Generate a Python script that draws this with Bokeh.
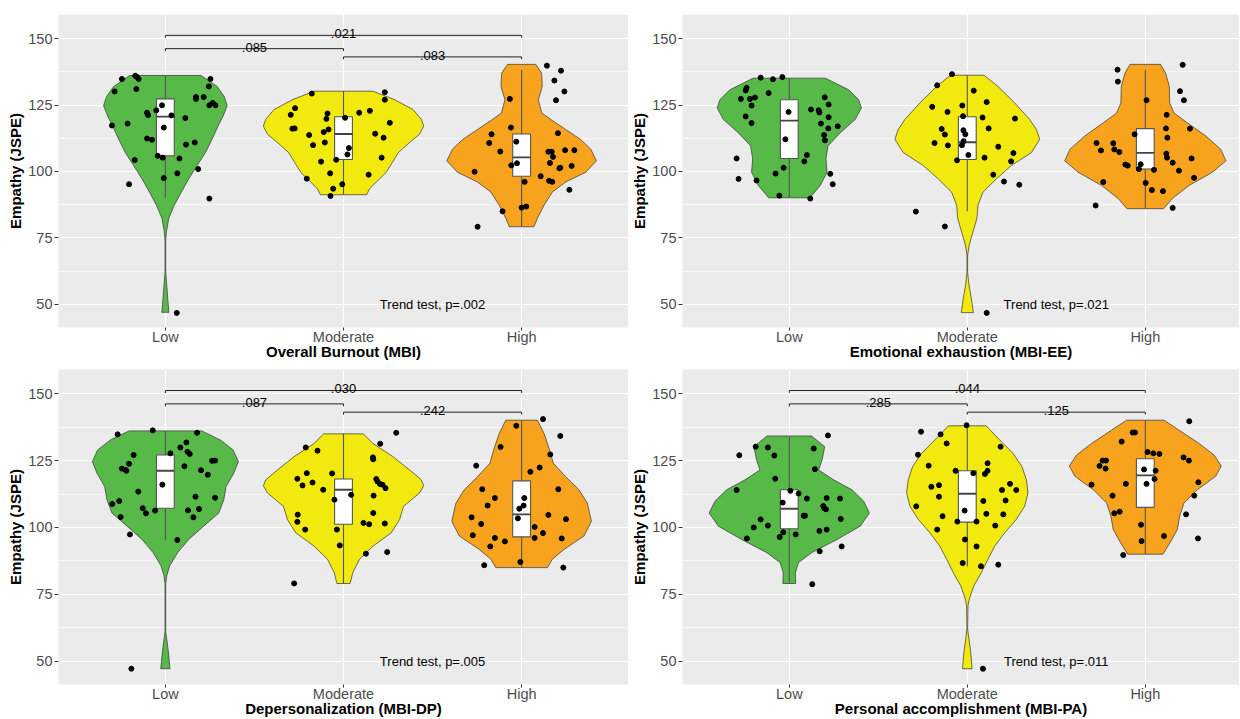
from bokeh.plotting import figure
from bokeh.layouts import gridplot
from bokeh.models import FixedTicker, Range1d
from bokeh.embed import file_html
from bokeh.resources import INLINE
from bokeh.core.properties import value

FONT = "Liberation Sans"

CATEGORIES = ["Low", "Moderate", "High"]
X_TITLES = ["Overall Burnout (MBI)", "Emotional exhaustion (MBI-EE)",
            "Depersonalization (MBI-DP)", "Personal accomplishment (MBI-PA)"]
Y_TITLE = "Empathy (JSPE)"
TREND_LABELS = ["Trend test, p=.002", "Trend test, p=.021",
                "Trend test, p=.005", "Trend test, p=.011"]
# bracket labels: Low-Moderate, Moderate-High, Low-High
P1_BRACKETS = [".085", ".083", ".021"]
P3_BRACKETS = [".087", ".242", ".030"]
P4_BRACKETS = [".285", ".125", ".044"]
Y_TICKS = [50, 75, 100, 125, 150]

COLORS = ["#57B947", "#F2E90F", "#F7A31D"]

# ---------- Panel 1: Overall Burnout ----------
P1_LOW_Y = [134.8,136.0,135.5,134.8,130.1,131.0,134.8,132.0,128.0,127.3,128.0,124.9,125.8,124.9,123.0,124.9,122.1,121.2,121.1,120.1,117.3,118.0,116.5,112.4,111.9,110.1,110.9,105.9,105.2,104.9,104.3,100.9,99.3,97.5,95.2,89.8,46.8]
P1_LOW_DX = [-0.244,-0.169,-0.159,-0.150,-0.285,-0.163,0.253,0.244,0.172,0.172,0.215,0.247,0.266,0.281,-0.051,-0.019,-0.103,-0.097,0.034,0.112,-0.300,-0.212,-0.009,-0.103,-0.075,0.116,0.165,-0.043,-0.015,0.079,-0.172,0.184,0.067,-0.009,-0.204,0.247,0.064]
P1_LOW_VY = [136.1,132.0,128.2,124.8,120.8,117.1,112.1,107.1,102.2,97.2,92.3,87.3,82.3,77.3,74.0,62.0,57.5,52.5,47.0]
P1_LOW_VW = [0.200,0.290,0.330,0.347,0.324,0.296,0.262,0.225,0.178,0.131,0.090,0.050,0.019,0.006,0.002,0.002,0.0075,0.013,0.020]
P1_LOW_BOX = [90.1, 105.9, 120.6, 127.3, 136.1]

P1_MOD_Y = [129.3,129.8,127.0,123.8,121.3,121.8,119.8,122.1,122.8,118.3,116.1,116.2,115.8,114.8,113.7,114.2,112.7,109.9,110.9,120.2,108.8,106.4,104.4,103.7,105.2,99.3,98.8,97.3,95.2,93.5,90.8]
P1_MOD_DX = [-0.178,0.232,0.232,-0.272,-0.296,-0.090,-0.096,0.088,0.148,0.260,-0.287,-0.274,-0.084,-0.111,-0.193,0.178,0.225,-0.171,-0.105,0.009,0.030,0.022,-0.041,-0.126,0.214,-0.075,0.141,-0.206,-0.007,-0.058,-0.073]
P1_MOD_VY = [130.2,127.0,123.3,119.6,117.1,114.0,110.9,107.1,103.4,99.7,96.0,93.5,91.25]
P1_MOD_VW = [0.165,0.287,0.390,0.437,0.450,0.427,0.371,0.308,0.274,0.240,0.184,0.146,0.130]
P1_MOD_BOX = [91.25, 104.5, 114.1, 120.6, 130.2]

P1_HIGH_Y = [139.8,137.9,134.2,130.1,126.8,127.3,116.5,114.0,110.7,114.4,111.2,107.5,107.4,107.4,108.0,108.0,105.5,103.2,102.3,103.1,99.9,101.4,101.2,102.1,98.2,96.1,96.5,96.1,93.1,85.0,86.4,86.8,79.2]
P1_HIGH_DX = [0.142,0.221,0.184,0.240,0.193,-0.066,-0.060,-0.169,-0.182,0.204,-0.030,-0.120,0.150,0.169,0.244,0.296,0.176,0.159,-0.058,-0.026,-0.264,0.217,0.212,0.281,0.107,0.017,0.154,0.172,0.268,-0.107,0.000,0.026,-0.247]
P1_HIGH_VY = [140.3,137.0,132.0,127.0,122.0,119.6,115.8,112.1,108.4,104.0,99.7,96.0,92.2,87.3,82.3,79.2]
P1_HIGH_VW = [0.079,0.112,0.116,0.094,0.113,0.163,0.247,0.330,0.388,0.420,0.360,0.247,0.172,0.126,0.088,0.069]
P1_HIGH_BOX = [79.2, 98.2, 105.3, 114.1, 138.2]

# ---------- Panel 2: Emotional exhaustion ----------
P2_LOW_Y = [135.3,134.7,135.5,131.5,130.5,129.5,127.3,127.3,127.8,124.8,120.7,118.2,122.4,112.1,127.9,125.2,123.3,123.0,122.2,120.4,118.0,117.0,116.2,113.7,111.7,104.9,106.2,103.8,101.4,99.2,96.6,97.2,99.1,95.2,90.9,89.8]
P2_LOW_DX = [-0.161,-0.092,-0.039,-0.240,-0.245,-0.116,-0.272,-0.221,-0.193,-0.212,-0.245,-0.212,-0.004,-0.022,0.199,0.221,0.122,0.165,0.169,0.221,0.178,0.272,0.219,0.195,0.200,-0.296,0.099,0.084,-0.032,-0.077,-0.184,-0.285,0.230,0.244,-0.056,0.118]
P2_LOW_VY = [135.1,130.7,127.0,123.9,119.6,114.6,109.6,104.7,99.7,94.7,90.1]
P2_LOW_VW = [0.203,0.334,0.390,0.405,0.371,0.287,0.217,0.206,0.212,0.174,0.116]
P2_LOW_BOX = [90.1, 104.9, 119.1, 127.0, 135.1]

P2_MOD_Y = [136.6,132.4,130.4,126.1,124.3,122.4,124.8,120.8,120.3,119.9,116.0,113.9,115.5,114.0,116.2,110.7,109.8,111.4,109.9,106.2,109.3,106.9,103.8,104.2,105.2,98.8,96.2,95.0,84.9,79.3,46.8]
P2_MOD_DX = [-0.086,-0.169,0.036,0.109,-0.197,-0.111,-0.028,-0.024,0.086,0.268,-0.144,-0.126,-0.022,-0.011,0.120,-0.184,-0.109,-0.021,-0.030,0.006,0.174,0.259,0.246,-0.058,0.097,0.146,0.206,0.292,-0.289,-0.126,0.109]
P2_MOD_VY = [136.2,132.0,125.8,119.6,115.8,112.1,107.1,102.2,97.2,92.2,87.3,82.3,77.3,72.4,68.6,62.0,57.5,52.5,46.9]
P2_MOD_VW = [0.094,0.172,0.266,0.350,0.388,0.407,0.360,0.247,0.163,0.088,0.060,0.054,0.032,0.011,0.002,0.002,0.009,0.022,0.034]
P2_MOD_BOX = [85.0, 104.5, 111.0, 120.6, 136.2]

P2_HIGH_Y = [138.3,140.1,133.8,130.2,126.8,126.8,121.3,116.2,116.1,114.0,112.7,110.7,110.6,107.9,108.3,107.3,106.7,105.2,104.9,103.3,102.6,102.2,102.7,100.9,100.6,100.3,97.6,96.0,95.7,93.0,92.6,87.2,86.3]
P2_HIGH_DX = [-0.156,0.210,-0.154,0.195,0.007,0.217,0.120,0.116,0.251,-0.060,0.124,-0.274,-0.180,-0.249,-0.174,-0.146,0.118,0.122,0.260,0.154,-0.112,-0.099,-0.026,-0.036,0.049,0.189,0.274,-0.236,0.002,0.037,0.099,-0.279,0.154]
P2_HIGH_VY = [140.3,137.0,132.0,125.8,122.0,118.3,113.4,108.4,104.0,99.7,94.7,89.8,86.0]
P2_HIGH_VW = [0.086,0.114,0.135,0.137,0.161,0.236,0.339,0.423,0.453,0.377,0.245,0.152,0.103]
P2_HIGH_BOX = [86.0, 100.9, 107.0, 116.1, 138.2]

# ---------- Panel 3: Depersonalization ----------
P3_LOW_Y = [134.8,136.3,135.4,127.1,123.8,122.0,121.2,121.5,116.0,127.7,129.9,131.8,128.3,127.5,122.9,121.4,119.7,124.9,125.0,113.4,108.8,109.9,107.2,105.3,106.3,103.9,97.4,111.5,111.1,106.4,106.9,103.8,95.3,47.2]
P3_LOW_DX = [-0.268,-0.071,0.178,-0.178,-0.204,-0.244,-0.219,-0.223,-0.017,0.028,0.084,0.118,0.124,0.137,0.107,0.200,0.238,0.262,0.279,-0.152,-0.298,-0.259,-0.127,-0.109,-0.058,-0.251,-0.199,0.169,0.279,0.127,0.189,0.157,0.067,-0.191]
P3_LOW_VY = [136.1,132.7,129.0,124.6,120.3,115.3,110.4,105.4,100.5,95.5,90.6,85.6,81.9,79.0,61.0,58.4,53.4,47.2]
P3_LOW_VW = [0.204,0.309,0.380,0.410,0.384,0.341,0.328,0.300,0.215,0.131,0.069,0.024,0.0075,0.002,0.002,0.0075,0.017,0.026]
P3_LOW_BOX = [95.3, 107.2, 121.2, 127.1, 136.1]

P3_MOD_Y = [129.9,128.7,135.4,131.3,126.2,125.5,118.2,115.7,120.3,116.8,114.1,120.2,110.4,112.2,118.1,117.2,116.2,116.0,114.7,111.9,104.8,102.1,99.2,99.2,93.3,101.7,101.2,105.4,101.5,90.2,90.8,79.1]
P3_MOD_DX = [-0.212,-0.146,0.296,0.206,0.165,0.167,-0.259,-0.230,-0.206,-0.174,-0.114,-0.064,-0.051,0.043,0.184,0.191,0.206,0.219,0.236,0.169,-0.257,-0.259,-0.215,-0.037,-0.021,0.112,0.144,0.167,0.232,0.126,0.245,-0.277]
P3_MOD_VY = [135.0,131.4,126.5,121.5,117.8,115.6,112.9,107.9,103.0,98.0,93.0,88.1,83.1,79.05]
P3_MOD_VW = [0.112,0.165,0.277,0.371,0.437,0.450,0.427,0.337,0.315,0.268,0.165,0.090,0.052,0.037]
P3_MOD_BOX = [79.05, 101.2, 114.1, 118.1, 135.0]

P3_HIGH_Y = [138.0,140.5,134.2,130.1,127.3,123.1,120.8,122.4,114.3,111.0,108.2,114.3,111.0,108.2,107.0,103.4,103.8,101.3,104.7,103.1,97.1,96.1,92.9,94.8,100.2,97.9,96.1,95.9,87.1,85.9,85.0]
P3_HIGH_DX = [-0.030,0.120,0.217,-0.118,0.161,-0.255,0.049,0.101,-0.221,-0.150,-0.191,0.206,0.015,0.011,-0.013,-0.021,-0.281,-0.227,0.150,0.249,-0.274,-0.150,-0.176,-0.094,0.073,0.120,0.073,0.225,-0.007,-0.210,0.234]
P3_HIGH_VY = [140.1,135.1,129.0,124.0,119.0,114.1,109.1,102.3,96.8,91.8,88.1,85.0]
P3_HIGH_VW = [0.089,0.126,0.157,0.178,0.247,0.322,0.369,0.392,0.350,0.238,0.172,0.145]
P3_HIGH_BOX = [85.0, 96.5, 104.9, 117.4, 140.1]

# ---------- Panel 4: Personal accomplishment ----------
P4_LOW_Y = [130.2,129.9,126.9,127.0,129.5,134.4,121.8,118.2,114.0,113.7,112.7,109.3,110.8,111.0,110.8,108.0,107.2,106.8,104.4,104.4,103.0,100.7,100.0,103.2,95.9,98.2,96.4,97.4,98.7,99.2,91.1,92.9,78.8]
P4_LOW_DX = [-0.189,-0.120,-0.084,-0.281,0.137,0.217,0.144,-0.079,-0.296,0.006,0.052,-0.037,0.099,0.210,0.285,0.191,0.197,0.206,0.081,0.088,-0.161,-0.120,-0.200,0.289,-0.238,-0.034,-0.054,0.036,0.169,0.210,0.171,0.294,0.129]
P4_LOW_VY = [134.2,130.2,125.2,121.5,117.8,114.1,109.8,105.4,100.5,95.5,90.6,86.9,83.1,79.05]
P4_LOW_VW = [0.125,0.199,0.184,0.165,0.249,0.352,0.418,0.450,0.399,0.268,0.127,0.052,0.034,0.036]
P4_LOW_BOX = [79.05, 99.5, 107.0, 114.1, 134.2]

P4_MOD_Y = [138.2,135.8,134.8,131.4,127.2,130.2,123.1,124.0,121.2,120.3,120.0,121.2,115.2,115.8,111.5,107.9,104.2,99.2,109.9,110.1,114.0,116.3,114.0,106.3,102.2,102.2,105.1,104.9,100.7,95.5,92.9,86.7,85.5,86.1,47.2]
P4_MOD_DX = [-0.004,-0.260,-0.150,-0.116,-0.277,0.187,-0.217,0.114,-0.066,0.034,0.099,0.114,-0.202,-0.159,-0.159,-0.287,-0.139,-0.169,0.090,0.215,0.195,0.240,0.275,-0.015,-0.056,0.052,0.107,0.202,0.157,-0.013,0.052,-0.026,0.077,0.174,0.088]
P4_MOD_VY = [138.0,132.7,127.7,122.8,117.8,112.9,107.9,103.0,98.0,93.0,88.1,83.1,78.2,73.2,70.8,62.0,58.4,53.4,47.2]
P4_MOD_VW = [0.106,0.182,0.257,0.307,0.332,0.341,0.322,0.275,0.210,0.154,0.116,0.079,0.037,0.011,0.004,0.002,0.009,0.019,0.027]
P4_MOD_BOX = [85.4, 102.0, 112.6, 121.2, 138.0]

P4_HIGH_Y = [139.7,135.5,135.5,132.1,128.2,127.7,127.5,126.2,125.0,125.0,125.0,123.0,122.0,121.7,121.2,118.1,116.0,116.3,116.3,116.9,111.9,111.9,104.9,105.3,105.9,101.0,96.8,94.9,95.9,89.7]
P4_HIGH_DX = [0.247,-0.071,-0.058,-0.133,0.013,0.045,0.079,0.215,0.245,-0.240,-0.221,-0.257,-0.223,-0.007,0.058,0.052,-0.302,-0.109,0.007,0.298,0.275,-0.184,0.229,-0.174,-0.144,-0.024,0.105,-0.021,0.296,-0.124]
P4_HIGH_VY = [140.1,136.4,131.4,127.1,123.0,119.1,114.1,109.1,104.2,99.2,94.3,90.0]
P4_HIGH_VW = [0.105,0.189,0.302,0.386,0.427,0.395,0.292,0.217,0.193,0.180,0.139,0.099]
P4_HIGH_BOX = [90.0, 107.5, 119.5, 125.7, 140.1]

PANEL_GROUPS = [
    [(P1_LOW_Y, P1_LOW_DX, P1_LOW_VY, P1_LOW_VW, P1_LOW_BOX),
     (P1_MOD_Y, P1_MOD_DX, P1_MOD_VY, P1_MOD_VW, P1_MOD_BOX),
     (P1_HIGH_Y, P1_HIGH_DX, P1_HIGH_VY, P1_HIGH_VW, P1_HIGH_BOX)],
    [(P2_LOW_Y, P2_LOW_DX, P2_LOW_VY, P2_LOW_VW, P2_LOW_BOX),
     (P2_MOD_Y, P2_MOD_DX, P2_MOD_VY, P2_MOD_VW, P2_MOD_BOX),
     (P2_HIGH_Y, P2_HIGH_DX, P2_HIGH_VY, P2_HIGH_VW, P2_HIGH_BOX)],
    [(P3_LOW_Y, P3_LOW_DX, P3_LOW_VY, P3_LOW_VW, P3_LOW_BOX),
     (P3_MOD_Y, P3_MOD_DX, P3_MOD_VY, P3_MOD_VW, P3_MOD_BOX),
     (P3_HIGH_Y, P3_HIGH_DX, P3_HIGH_VY, P3_HIGH_VW, P3_HIGH_BOX)],
    [(P4_LOW_Y, P4_LOW_DX, P4_LOW_VY, P4_LOW_VW, P4_LOW_BOX),
     (P4_MOD_Y, P4_MOD_DX, P4_MOD_VY, P4_MOD_VW, P4_MOD_BOX),
     (P4_HIGH_Y, P4_HIGH_DX, P4_HIGH_VY, P4_HIGH_VW, P4_HIGH_BOX)],
]
PANEL_BRACKETS = [P1_BRACKETS, None, P3_BRACKETS, P4_BRACKETS]

# layout constants
LEFT_W, RIGHT_W = 628, 611
TOP_H, BOT_H = 362, 357
BOX_HW = 0.05
BRACKET_Y = [146.2, 143.1, 151.2]
BRACKET_TIP = 0.9


def make_panel(idx):
    left_col = idx % 2 == 0
    top_row = idx < 2
    width = LEFT_W if left_col else RIGHT_W
    height = TOP_H if top_row else BOT_H
    border_left = 58 if left_col else 54
    frame_w = width - border_left
    x_end = 3.6 if left_col else 0.4 + frame_w / 178.0
    p = figure(width=width, height=height,
               x_range=Range1d(0.4, x_end), y_range=Range1d(41.3, 159.05),
               output_backend="svg", toolbar_location=None,
               min_border_left=border_left, min_border_right=0,
               min_border_top=14 if top_row else 7, min_border_bottom=20)
    p.background_fill_color = "#EBEBEB"
    p.border_fill_color = "white"
    p.outline_line_color = None

    p.xaxis.ticker = FixedTicker(ticks=[1, 2, 3])
    p.xaxis.major_label_overrides = {1: CATEGORIES[0], 2: CATEGORIES[1], 3: CATEGORIES[2]}
    p.yaxis.ticker = FixedTicker(ticks=Y_TICKS, minor_ticks=[62.5, 87.5, 112.5, 137.5])
    for ax in (p.xaxis[0], p.yaxis[0]):
        ax.axis_line_color = None
        ax.major_tick_line_color = "#333333"
        ax.major_tick_in = 0
        ax.minor_tick_line_color = None
        ax.major_label_text_color = "#4D4D4D"
        ax.major_label_text_font = FONT
        ax.major_label_text_font_size = "14.5px"
        ax.axis_label_text_font = FONT
        ax.axis_label_text_font_style = "bold"
        ax.axis_label_text_font_size = "15px"
        ax.axis_label_text_color = "black"
    xa = p.xaxis[0]
    xa.major_tick_out = 3
    xa.major_label_standoff = -2
    xa.axis_label_standoff = -5
    ya = p.yaxis[0]
    ya.major_tick_out = 4
    ya.major_label_standoff = 2
    ya.axis_label_standoff = 1
    p.xaxis.axis_label = X_TITLES[idx]
    p.yaxis.axis_label = Y_TITLE

    p.xgrid.grid_line_color = "white"
    p.xgrid.grid_line_width = 1.1
    p.ygrid.grid_line_color = "white"
    p.ygrid.grid_line_width = 1.1
    p.ygrid.minor_grid_line_color = "white"
    p.ygrid.minor_grid_line_width = 0.6

    for gi, (ys, dxs, vy, vw, box) in enumerate(PANEL_GROUPS[idx]):
        c = gi + 1
        xs_poly = [c - w for w in vw] + [c + w for w in reversed(vw)]
        ys_poly = list(vy) + list(reversed(vy))
        p.patch(xs_poly, ys_poly, fill_color=COLORS[gi], line_color="#333333", line_width=0.7)
        wlo, q1, med, q3, whi = box
        p.segment(x0=[c, c], y0=[q3, q1], x1=[c, c], y1=[whi, wlo],
                  line_color="#555555", line_width=1.1)
        p.quad(left=[c - BOX_HW], right=[c + BOX_HW], bottom=[q1], top=[q3],
               fill_color="white", line_color="#555555", line_width=1.1)
        p.segment(x0=[c - BOX_HW], y0=[med], x1=[c + BOX_HW], y1=[med],
                  line_color="#444444", line_width=1.8)
        p.scatter(x=[c + d for d in dxs], y=ys, size=5, color="black")

    br = PANEL_BRACKETS[idx]
    if br:
        spans = [(1, 2), (2, 3), (1, 3)]
        for (x1, x2), yb, lab in zip(spans, BRACKET_Y, br):
            p.line([x1, x1, x2, x2], [yb - BRACKET_TIP, yb, yb, yb - BRACKET_TIP],
                   line_color="#222222", line_width=1)
            p.text(x=[(x1 + x2) / 2], y=[yb + 0.6], text=[lab], text_align="center",
                   text_baseline="alphabetic", text_font=value(FONT),
                   text_font_size="13px", text_color="black")

    p.text(x=[2.5], y=[50], text=[TREND_LABELS[idx]], text_align="center",
           text_baseline="middle", text_font=value(FONT), text_font_size="13px",
           text_color="black")
    return p


panels = [make_panel(i) for i in range(4)]
grid = gridplot([[panels[0], panels[1]], [panels[2], panels[3]]], toolbar_location=None)

open("out.html", "w").write(file_html(grid, INLINE))
